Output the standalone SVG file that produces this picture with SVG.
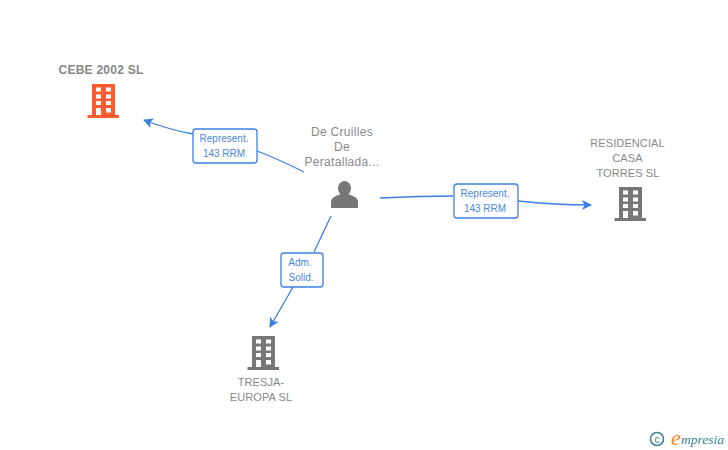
<svg xmlns="http://www.w3.org/2000/svg" width="728" height="450" viewBox="0 0 728 450">
<style>
text{font-family:"Liberation Sans",Arial,sans-serif}
.l{font-size:12px;fill:#888;text-anchor:middle;letter-spacing:.3px}
.u{font-size:11px;letter-spacing:.1px}
.b{font-weight:bold;font-size:12px;letter-spacing:.25px}
.e{font-size:10px;fill:#4a86e0;text-anchor:middle}
.c{fill:none;stroke:#3a80e2;stroke-width:1.3}
.box{fill:#fff;stroke:#3a80e2;stroke-width:1.3}
.w{fill:#fff}
</style>
<defs>
<g id="bld">
<path d="M0 0H23V31H27V34H-4.500V31H0Z"/>
<path class="w" d="M4 3.500h5v4h-5zM14 3.500h5v4h-5zM4 10.500h5v4h-5zM14 10.500h5v4h-5zM4 17h5v4h-5zM14 17h5v4h-5zM4 24h5v7h-5zM14 24h5v4.500h-5z"/>
</g>
<marker id="a" markerWidth="10" markerHeight="10" refX="9" refY="5" orient="auto" markerUnits="userSpaceOnUse"><path d="M0 0L10 5L0 10L2.500 5Z" fill="#3a80e2"/></marker>
</defs>
<rect width="728" height="450" fill="#fff"/>
<g id="connectors">
<path class="c" d="M304 172Q276 158 257 151" />
<path class="c" d="M193 134Q170 130 144 120" marker-end="url(#a)"/>
<path class="c" d="M380 198Q420 196 453 196"/>
<path class="c" d="M518 201Q555 205 591 205" marker-end="url(#a)"/>
<path class="c" d="M331 216L314 252"/>
<path class="c" d="M293 287L270 327" marker-end="url(#a)"/>
</g>
<g id="edge1"><rect class="box" x="193" y="129" width="64" height="34" rx="3"/><text class="e" x="224" y="142">Represent.</text><text class="e" x="224" y="157">143 RRM</text></g>
<g id="edge2"><rect class="box" x="454" y="184" width="64" height="34" rx="3"/><text class="e" x="485" y="197">Represent.</text><text class="e" x="485" y="212">143 RRM</text></g>
<g id="edge3"><rect class="box" x="281" y="253" width="42" height="34" rx="3"/><text class="e" x="300" y="266">Adm.</text><text class="e" x="301" y="281">Solid.</text></g>
<g id="node-cebe"><text class="l b" x="101" y="74">CEBE 2002 SL</text><use href="#bld" x="92" y="84" fill="#ff5a30"/></g>
<g id="node-person"><text class="l" x="342" y="135.500">De Cruilles</text><text class="l" x="342" y="150.500">De</text><text class="l" x="342" y="165.500">Peratallada...</text>
<ellipse cx="344.500" cy="188.500" rx="6.500" ry="7.500" fill="#777"/><path fill="#777" d="M331 208V202Q331 198 336 196L341 194H348L353 196Q358 198 358 202V208Z"/></g>
<g id="node-residencial"><text class="l u" x="627.500" y="147">RESIDENCIAL</text><text class="l u" x="627.500" y="162">CASA</text><text class="l u" x="628" y="177">TORRES SL</text><use href="#bld" x="619" y="187" fill="#777"/></g>
<g id="node-tresja"><text class="l u" x="261" y="386">TRESJA-</text><text class="l u" x="261" y="401">EUROPA SL</text><use href="#bld" x="252" y="336" fill="#777"/></g>
<g id="logo"><circle cx="657" cy="439" r="6.500" fill="none" stroke="#3b7f92" stroke-width="1.500"/><text x="657" y="442.500" font-size="10" fill="#3b7f92" text-anchor="middle">c</text><text x="671" y="445" font-size="22" fill="#f08a1c" font-style="italic" style="font-family:'Liberation Serif',serif">e</text><text x="681" y="444" font-size="13.500" fill="#3b7f92" font-style="italic" style="font-family:'Liberation Serif',serif">mpresia</text></g>
</svg>
